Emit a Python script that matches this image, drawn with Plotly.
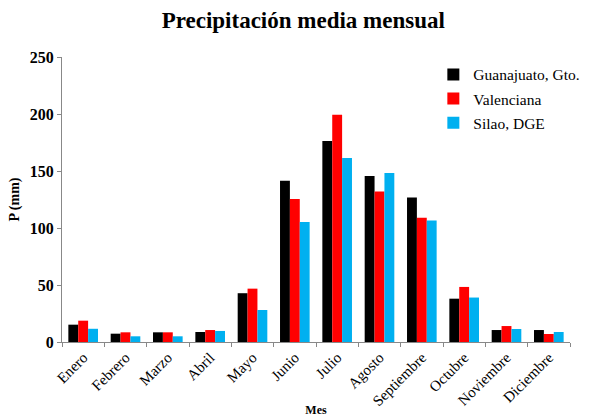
import plotly.graph_objects as go

months = ["Enero", "Febrero", "Marzo", "Abril", "Mayo", "Junio", "Julio",
          "Agosto", "Septiembre", "Octubre", "Noviembre", "Diciembre"]
guanajuato = [15.2, 7.3, 8.5, 8.8, 42.8, 141.5, 176.4, 145.6, 126.8, 38.0, 10.5, 10.5]
valenciana = [18.7, 8.5, 8.5, 10.5, 46.8, 125.4, 199.4, 132.1, 109.0, 48.3, 14.0, 7.0]
silao = [11.6, 5.0, 5.0, 9.7, 28.1, 105.2, 161.4, 148.2, 106.6, 39.0, 11.4, 8.8]

series = [("Guanajuato, Gto.", guanajuato, "#000000"),
          ("Valenciana", valenciana, "#ff0000"),
          ("Silao, DGE", silao, "#00b0f0")]

FONT = "Liberation Serif"

fig = go.Figure()
for i, (name, vals, color) in enumerate(series):
    fig.add_trace(go.Bar(x=months, y=vals, name=name, marker_color=color,
                         marker_line_width=0, legendgroup=str(i)))

fig.update_layout(
    width=590, height=417,
    margin=dict(l=62, r=20, t=57, b=75, autoexpand=False),
    paper_bgcolor="white", plot_bgcolor="white",
    font=dict(family=FONT, color="black"),
    title=dict(text="<b>Precipitación media mensual</b>", x=0.514, xanchor="center",
               y=0.952, yanchor="middle", font=dict(size=23, family=FONT, color="black")),
    barmode="group", bargap=0.3, bargroupgap=0,
    showlegend=True,
    legend=dict(x=0.731, y=0.997, xanchor="left", yanchor="top",
                font=dict(size=15.5, family=FONT, color="black"), bgcolor="rgba(0,0,0,0)",
                traceorder="grouped", tracegroupgap=1, itemwidth=30),
)
fig.update_xaxes(
    automargin=False,
    showline=True, linecolor="#888888", linewidth=1,
    ticks="outside", tickson="boundaries", ticklen=4, tickcolor="#888888",
    tickangle=-45, tickfont=dict(size=15, family=FONT, color="black"),
    title=dict(text="<b>Mes</b>", font=dict(size=12, family=FONT, color="black"), standoff=0),
    showgrid=False,
)
fig.update_yaxes(
    automargin=False,
    range=[0, 250], dtick=50, showline=True, linecolor="#888888", linewidth=1,
    ticks="outside", ticklen=4, tickcolor="#888888",
    tickfont=dict(size=16, family=FONT, color="black"), tickprefix="<b>", ticksuffix="</b>",
    title=dict(text="<b>P (mm)</b>", font=dict(size=14, family=FONT, color="black"), standoff=6),
    showgrid=False, zeroline=False,
)
fig.write_html("out.html", config={"displayModeBar": False},
               post_script="document.body.style.margin='0';")
